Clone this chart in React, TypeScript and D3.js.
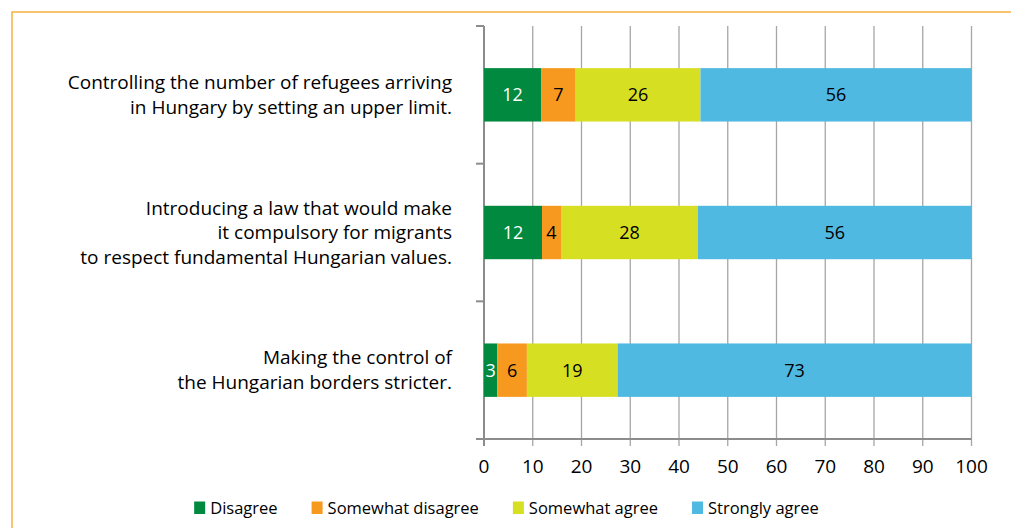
import React, { useRef, useEffect } from "react";
import * as d3 from "d3";

// question labels, one string per bar (lines split on \n)
const questions = [
  "Controlling the number of refugees arriving\nin Hungary by setting an upper limit.",
  "Introducing a law that would make\nit compulsory for migrants\nto respect fundamental Hungarian values.",
  "Making the control of\nthe Hungarian borders stricter.",
];

const seriesNames = ["Disagree", "Somewhat disagree", "Somewhat agree", "Strongly agree"];
const seriesColors = ["#00893F", "#F7991F", "#D7DF23", "#50B9E1"];
const labelColors = ["#ffffff", "#000000", "#000000", "#000000"];

// percentages (labels are rounded)
const disagree = [11.7, 11.9, 2.7];
const somewhatDisagree = [7.1, 3.9, 6.1];
const somewhatAgree = [25.6, 28.1, 18.6];
const stronglyAgree = [55.6, 56.1, 72.6];

const xTicks = [0, 10, 20, 30, 40, 50, 60, 70, 80, 90, 100];

const FONT = "'Open Sans', 'Noto Sans', sans-serif";

function App() {
  const svgRef = useRef<SVGSVGElement>(null);

  useEffect(() => {
    const svg = d3.select(svgRef.current);
    svg.selectAll("*").remove();

    const width = 1011;
    const height = 528;
    const plot = { left: 484, right: 971.5, top: 26, bottom: 439 };

    // orange frame
    svg
      .append("rect")
      .attr("x", 12)
      .attr("y", 12)
      .attr("width", width)
      .attr("height", height)
      .attr("fill", "none")
      .attr("stroke", "#F9B03F")
      .attr("stroke-width", 1.5);

    const xScale = d3.scaleLinear().domain([0, 100]).range([plot.left, plot.right]);
    const yScale = d3
      .scaleBand<number>()
      .domain(questions.map((q, i) => i))
      .range([plot.top, plot.bottom]);
    const barH = yScale.bandwidth() * 0.388;

    // gridlines
    svg
      .append("g")
      .selectAll("line")
      .data(xTicks)
      .join("line")
      .attr("x1", (d) => xScale(d))
      .attr("x2", (d) => xScale(d))
      .attr("y1", plot.top)
      .attr("y2", plot.bottom + 7)
      .attr("stroke", (d) => (d === 0 ? "#8c8c8c" : "#a6a6a6"))
      .attr("stroke-width", (d) => (d === 0 ? 2 : 1.3));

    // x axis line
    svg
      .append("line")
      .attr("x1", plot.left - 8)
      .attr("x2", plot.right)
      .attr("y1", plot.bottom)
      .attr("y2", plot.bottom)
      .attr("stroke", "#8c8c8c")
      .attr("stroke-width", 2);

    // category ticks on the left axis
    const catTicks = questions.map((q, i) => yScale(i)!).concat([plot.bottom]);
    svg
      .append("g")
      .selectAll("line")
      .data(catTicks)
      .join("line")
      .attr("x1", plot.left - 8)
      .attr("x2", plot.left)
      .attr("y1", (d) => d)
      .attr("y2", (d) => d)
      .attr("stroke", "#8c8c8c")
      .attr("stroke-width", 2);

    // tick labels
    svg
      .append("g")
      .selectAll("text")
      .data(xTicks)
      .join("text")
      .attr("x", (d) => xScale(d))
      .attr("y", plot.bottom + 34)
      .attr("text-anchor", "middle")
      .attr("font-family", FONT)
      .attr("font-size", 19)
      .attr("fill", "#000")
      .text((d) => d);

    // stacked bars
    const rows = questions.map((q, i) => ({
      i,
      values: [disagree[i], somewhatDisagree[i], somewhatAgree[i], stronglyAgree[i]],
    }));
    const segments = rows.flatMap((row) => {
      let acc = 0;
      return row.values.map((v, s) => {
        const seg = { row: row.i, s, x0: acc, x1: acc + v, v };
        acc += v;
        return seg;
      });
    });

    svg
      .append("g")
      .selectAll("rect")
      .data(segments)
      .join("rect")
      .attr("x", (d) => xScale(d.x0))
      .attr("width", (d) => xScale(d.x1) - xScale(d.x0))
      .attr("y", (d) => yScale(d.row)! + (yScale.bandwidth() - barH) / 2)
      .attr("height", barH)
      .attr("fill", (d) => seriesColors[d.s]);

    svg
      .append("g")
      .selectAll("text")
      .data(segments)
      .join("text")
      .attr("x", (d) => (xScale(d.x0) + xScale(d.x1)) / 2)
      .attr("y", (d) => yScale(d.row)! + yScale.bandwidth() / 2 + 6.5)
      .attr("text-anchor", "middle")
      .attr("font-family", FONT)
      .attr("font-size", 18)
      .attr("fill", (d) => labelColors[d.s])
      .text((d) => d3.format(".0f")(d.v));

    // question labels
    const lineH = 24.5;
    const qText = svg
      .append("g")
      .selectAll("text")
      .data(questions)
      .join("text")
      .attr("text-anchor", "end")
      .attr("font-family", FONT)
      .attr("font-size", 19)
      .attr("fill", "#000");
    qText.each(function (q, i) {
      const lines = q.split("\n");
      const cy = yScale(i)! + yScale.bandwidth() / 2;
      d3.select(this)
        .selectAll("tspan")
        .data(lines)
        .join("tspan")
        .attr("x", 452)
        .attr("y", (l, k) => cy + (k - (lines.length - 1) / 2) * lineH + 6.5)
        .text((l) => l);
    });

    // legend
    const legend = svg.append("g");
    let lx = 0;
    const gap = 34;
    seriesNames.forEach((name, s) => {
      const g = legend.append("g").attr("transform", `translate(${lx},0)`);
      g.append("rect")
        .attr("x", 0)
        .attr("y", -12.5)
        .attr("width", 11)
        .attr("height", 12.5)
        .attr("fill", seriesColors[s]);
      const t = g
        .append("text")
        .attr("x", 16)
        .attr("y", 0)
        .attr("font-family", FONT)
        .attr("font-size", 16.5)
        .attr("fill", "#000")
        .text(name);
      const w = (t.node() as SVGTextElement).getComputedTextLength();
      lx += 16 + w + gap;
    });
    const legendW = lx - gap;
    legend.attr("transform", `translate(${506.5 - legendW / 2},514)`);
  }, []);

  return (
    <svg
      ref={svgRef}
      width={1011}
      height={528}
      style={{ position: "absolute", left: 0, top: 0, background: "#fff" }}
    />
  );
}

export default App;
